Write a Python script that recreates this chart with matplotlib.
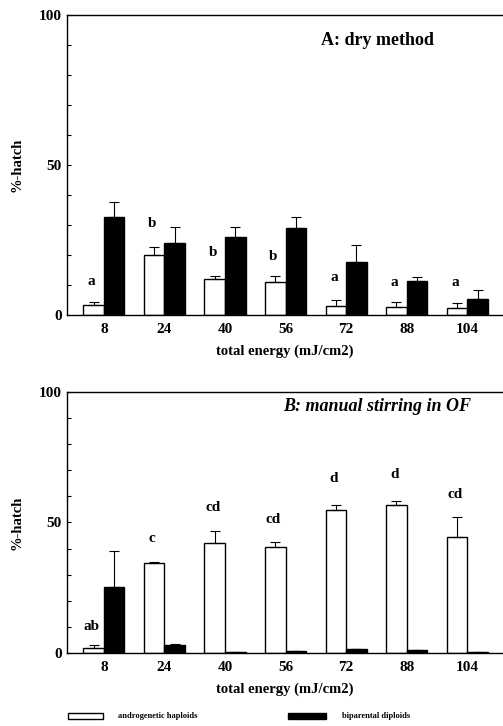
import numpy as np
import matplotlib.pyplot as plt
from matplotlib.patches import Rectangle

# donnees
energie = ['8', '24', '40', '56', '72', '88', '104']

# A: dry method
haplo_A = [3.3, 20.0, 11.9, 11.1, 3.0, 2.8, 2.2]
haplo_A_err = [0.9, 2.6, 1.0, 2.1, 2.0, 1.4, 1.7]
diplo_A = [32.8, 23.9, 25.9, 29.1, 17.8, 11.4, 5.3]
diplo_A_err = [4.8, 5.5, 3.5, 3.7, 5.5, 1.3, 3.1]
lettres_A = ['a', 'b', 'b', 'b', 'a', 'a', 'a']
y_lettres_A = [11.3, 30.5, 21.0, 19.7, 12.4, 10.8, 10.8]

# B: manual stirring in OF
haplo_B = [2.0, 34.3, 42.0, 40.7, 54.8, 56.8, 44.6]
haplo_B_err = [0.9, 0.4, 4.7, 1.9, 1.9, 1.6, 7.6]
diplo_B = [25.1, 2.9, 0.3, 0.9, 1.5, 1.2, 0.5]
diplo_B_err = [13.9, 0.7, 0.0, 0.0, 0.0, 0.0, 0.0]
lettres_B = ['ab', 'c', 'cd', 'cd', 'd', 'd', 'cd']
y_lettres_B = [10.0, 43.9, 55.7, 51.2, 67.0, 68.5, 60.6]

serif = ['Liberation Serif', 'DejaVu Serif']
plt.rcParams['font.family'] = serif

fig = plt.figure(figsize=(5.03, 7.26), dpi=100)
axA = fig.add_axes([0.133, 0.566, 0.867, 0.413])
axB = fig.add_axes([0.133, 0.1006, 0.867, 0.3595])

x = np.arange(len(energie))
larg = 0.34


def panneau(ax, haplo, herr, diplo, derr, lettres, ylet, titre, style, ytitre):
    ax.bar(x - larg / 2, haplo, larg, color='white', edgecolor='black', linewidth=1.0,
           yerr=[np.zeros(len(haplo)), herr], error_kw=dict(ecolor='black', elinewidth=0.8, capsize=3.5, capthick=0.8))
    ax.bar(x + larg / 2, diplo, larg, color='black', edgecolor='black', linewidth=1.0,
           yerr=[np.zeros(len(diplo)), derr], error_kw=dict(ecolor='black', elinewidth=0.8, capsize=3.5, capthick=0.8))
    for i in range(len(lettres)):
        ax.text(x[i] - 0.2, ylet[i], lettres[i], ha='center', va='center', fontsize=11, fontweight='bold')
    ax.set_xlim(-0.61, 6.59)
    ax.set_ylim(0, 100)
    ax.set_xticks(x)
    ax.set_xticklabels(energie, fontsize=11, fontweight='bold')
    ax.set_yticks([0, 50, 100])
    ax.set_yticklabels(['0', '50', '100'], fontsize=11, fontweight='bold')
    ax.set_yticks(np.arange(0, 101, 10), minor=True)
    ax.tick_params(axis='y', which='both', direction='in', length=3, width=0.8)
    ax.tick_params(axis='x', length=0, pad=6)
    ax.set_ylabel('%-hatch', fontsize=10.5, fontweight='bold', labelpad=11)
    ax.set_xlabel('total energy (mJ/cm2)', fontsize=10.5, fontweight='bold', labelpad=6)
    ax.spines['right'].set_visible(False)
    for s in ['left', 'top', 'bottom']:
        ax.spines[s].set_linewidth(1.0)
    ax.text(0.712, ytitre, titre, transform=ax.transAxes, ha='center', va='center',
            fontsize=13, fontweight='bold', style=style)


panneau(axA, haplo_A, haplo_A_err, diplo_A, diplo_A_err, lettres_A, y_lettres_A, 'A: dry method', 'normal', 0.917)
panneau(axB, haplo_B, haplo_B_err, diplo_B, diplo_B_err, lettres_B, y_lettres_B, 'B: manual stirring in OF', 'italic', 0.943)

# legende en bas
fig.patches.append(Rectangle((68 / 503, 1 - 719 / 726), 35 / 503, 6 / 726, transform=fig.transFigure,
                             facecolor='white', edgecolor='black', linewidth=1.0))
fig.text(118 / 503, 1 - 716 / 726, 'androgenetic haploids', fontsize=6, fontweight='bold', va='center')
fig.patches.append(Rectangle((288 / 503, 1 - 719 / 726), 38 / 503, 6 / 726, transform=fig.transFigure,
                             facecolor='black', edgecolor='black', linewidth=1.0))
fig.text(342 / 503, 1 - 716 / 726, 'biparental diploids', fontsize=6, fontweight='bold', va='center')

fig.savefig('out.png', dpi=100)
